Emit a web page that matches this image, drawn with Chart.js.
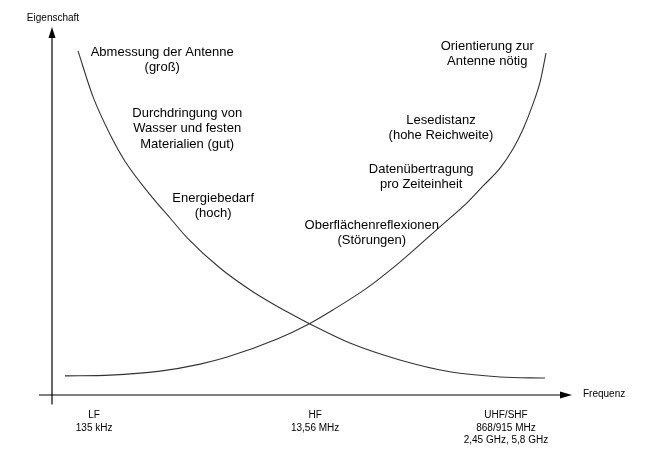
<!DOCTYPE html>
<html>
<head>
<meta charset="utf-8">
<script src="https://cdn.jsdelivr.net/npm/chart.js@4"></script>
<style>
html,body{margin:0;padding:0;background:#fff;}
#wrap{width:647px;height:459px;position:relative;}
</style>
</head>
<body>
<div id="wrap"><canvas id="c" width="647" height="459"></canvas></div>
<script>
// Frequency axis (arbitrary units 0..100) and property axis (0..100)
const bandPositions = [8.1, 50.6, 87.3];
const bandLabels = [
  ["LF", "135 kHz"],
  ["HF", "13,56 MHz"],
  ["UHF/SHF", "868/915 MHz", "2,45 GHz, 5,8 GHz"]
];

// Falling curve (antenna size, penetration, energy demand)
const fallingX = [5.0, 7.9, 11.2, 14.0, 19.4, 22.7, 26.0, 32.3, 38.7, 45.2, 49.6, 57.3, 66.9, 76.5, 86.2, 94.8];
const fallingY = [93.5, 81.0, 70.7, 63.6, 53.5, 48.1, 42.7, 34.5, 28.0, 22.6, 19.3, 14.1, 9.5, 6.3, 4.9, 4.6];

// Rising curve (orientation, read range, data rate, reflections)
const risingX = [2.5, 11.2, 20.8, 28.5, 33.7, 43.3, 49.4, 54.0, 60.6, 66.9, 74.6, 79.8, 82.9, 86.2, 88.7, 90.6, 92.5, 93.9, 95.0];
const risingY = [5.2, 5.4, 6.5, 8.4, 10.3, 15.2, 19.3, 23.1, 29.1, 36.1, 45.7, 52.2, 56.8, 61.7, 67.0, 72.3, 79.1, 85.3, 92.9];

// Text notes placed in data units
const noteX = [21.2, 26.0, 31.0, 61.5, 83.7, 74.8, 71.0];
const noteY = [93.2, 76.6, 53.5, 46.2, 94.8, 74.7, 61.4];
const noteText = [
  ["Abmessung der Antenne", "(groß)"],
  ["Durchdringung von", "Wasser und festen", "Materialien (gut)"],
  ["Energiebedarf", "(hoch)"],
  ["Oberflächenreflexionen", "(Störungen)"],
  ["Orientierung zur", "Antenne nötig"],
  ["Lesedistanz", "(hohe Reichweite)"],
  ["Datenübertragung", "pro Zeiteinheit"]
];
const xTitle = "Frequenz";
const yTitle = "Eigenschaft";

const FONT = "'Liberation Sans', Arial, sans-serif";

const toPts = (xs, ys) => xs.map((v, i) => ({x: v, y: ys[i]}));

const overlay = {
  id: 'overlay',
  afterDatasetsDraw(chart) {
    const {ctx, scales: {x, y}} = chart;
    ctx.save();
    ctx.strokeStyle = '#000';
    ctx.fillStyle = '#000';
    ctx.lineWidth = 1.2;
    const x0 = x.getPixelForValue(0), y0 = y.getPixelForValue(0);
    const xEnd = x.getPixelForValue(100), yEnd = y.getPixelForValue(100);
    // x axis
    ctx.beginPath();
    ctx.moveTo(x.getPixelForValue(-2.5), y0);
    ctx.lineTo(xEnd - 10, y0);
    ctx.stroke();
    ctx.beginPath();
    ctx.moveTo(xEnd, y0);
    ctx.lineTo(xEnd - 12, y0 - 3.5);
    ctx.lineTo(xEnd - 12, y0 + 3.5);
    ctx.closePath();
    ctx.fill();
    // y axis
    ctx.beginPath();
    ctx.moveTo(x0, y.getPixelForValue(-2.6));
    ctx.lineTo(x0, yEnd + 10);
    ctx.stroke();
    ctx.beginPath();
    ctx.moveTo(x0, yEnd);
    ctx.lineTo(x0 - 3.5, yEnd + 11);
    ctx.lineTo(x0 + 3.5, yEnd + 11);
    ctx.closePath();
    ctx.fill();
    // axis titles
    ctx.font = "10px " + FONT;
    ctx.textBaseline = 'middle';
    ctx.textAlign = 'left';
    ctx.fillText(xTitle, xEnd + 11, y0 - 1);
    ctx.textAlign = 'center';
    ctx.fillText(yTitle, x0 + 1, yEnd - 8.5);
    // notes
    ctx.font = "13px " + FONT;
    noteText.forEach((lines, i) => {
      const px = x.getPixelForValue(noteX[i]);
      const py = y.getPixelForValue(noteY[i]);
      lines.forEach((t, j) => ctx.fillText(t, px, py + j * 15.5));
    });
    ctx.restore();
  }
};

new Chart(document.getElementById('c'), {
  type: 'line',
  data: {
    datasets: [
      {data: toPts(fallingX, fallingY), borderColor: '#333', borderWidth: 1.1, pointRadius: 0, fill: false, cubicInterpolationMode: 'monotone'},
      {data: toPts(risingX, risingY), borderColor: '#333', borderWidth: 1.1, pointRadius: 0, fill: false, cubicInterpolationMode: 'monotone'}
    ]
  },
  options: {
    responsive: false,
    animation: false,
    devicePixelRatio: 1,
    layout: {padding: {left: 52, right: 75, top: 27, bottom: 0}},
    plugins: {legend: {display: false}, tooltip: {enabled: false}},
    scales: {
      x: {
        type: 'linear', min: 0, max: 100,
        grid: {display: false, drawTicks: false},
        border: {display: false},
        afterBuildTicks: (s) => { s.ticks = bandPositions.map(v => ({value: v})); },
        afterFit: (s) => { s.height = 64; },
        ticks: {
          autoSkip: false, maxRotation: 0, padding: 14, color: '#000',
          font: {family: FONT, size: 10, lineHeight: 1.25},
          callback: (v) => { const i = bandPositions.indexOf(v); return i >= 0 ? bandLabels[i] : ''; }
        }
      },
      y: {type: 'linear', min: 0, max: 100, display: false}
    }
  },
  plugins: [overlay]
});
</script>
</body>
</html>
